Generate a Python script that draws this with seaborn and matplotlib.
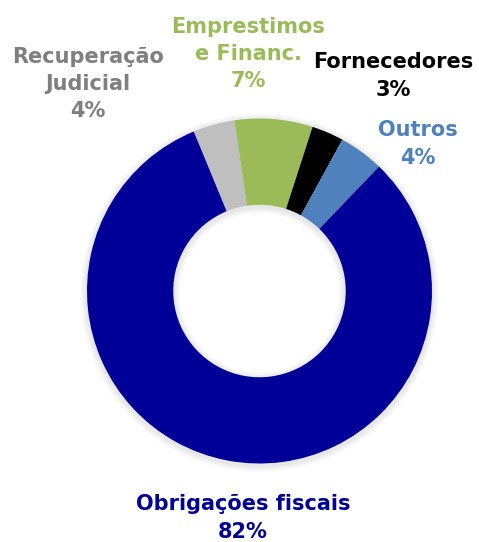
import matplotlib
matplotlib.use("Agg")
import matplotlib.pyplot as plt
import seaborn as sns

categories = ["Recuperação\nJudicial", "Emprestimos\ne Financ.", "Fornecedores", "Outros", "Obrigações fiscais"]
values = [3.9, 7.3, 3.0, 4.2, 81.6]
slice_colors = ["#BFBFBF", "#9BBB59", "#000000", "#4F81BD", "#000099"]
label_colors = ["#7F7F7F", "#9BBB59", "#000000", "#4F81BD", "#000099"]

sns.set_theme(style="white")
plt.rcParams["font.family"] = ["DejaVu Sans"]
palette = sns.color_palette(slice_colors)

fig = plt.figure(figsize=(4.79, 5.42), dpi=100)
ax = fig.add_axes([0, 0, 1, 1])
ax.set_axis_off()

# soft shadow
for i, a in enumerate([0.03, 0.03, 0.03]):
    r = 1.0 + 0.012 * (i + 1)
    ax.pie([1], radius=r, colors=["#000000"], startangle=90,
           wedgeprops=dict(width=0.5 + 0.024 * (i + 1), alpha=a, linewidth=0),
           center=(0.0, -0.01))

ax.pie(values, colors=palette, startangle=112.4, counterclock=False,
       radius=1.0, wedgeprops=dict(width=0.5, linewidth=0))

ax.set_aspect("equal")
R = 172.5
cx, cy = 259.5, 291.0
ax.set_xlim(-cx / R, (479 - cx) / R)
ax.set_ylim(-(542 - cy) / R, cy / R)

def px(x, y):
    return ((x - cx) / R, (cy - y) / R)

label_pos = [(88, 84), (248, 54), (393, 76), (418, 144), (243, 518)]
for cat, v, col, (x, y) in zip(categories, values, label_colors, label_pos):
    txt = f"{cat}\n{round(v):.0f}%"
    ax.text(*px(x, y), txt, ha="center", va="center", color=col,
            fontsize=15, fontweight="heavy", linespacing=1.45)

fig.savefig("out.png", dpi=100)
